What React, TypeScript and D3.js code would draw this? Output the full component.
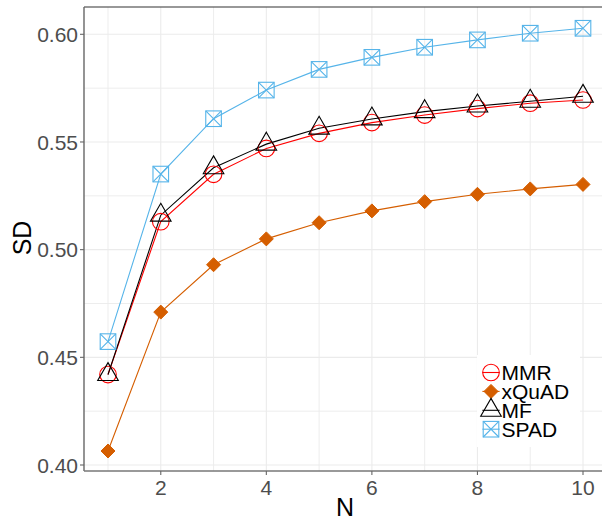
import React, { useEffect, useRef } from 'react';
import * as d3 from 'd3';

// values
const nValues = [1, 2, 3, 4, 5, 6, 7, 8, 9, 10];
const mmrSD = [0.442, 0.513, 0.535, 0.547, 0.554, 0.559, 0.5625, 0.5655, 0.568, 0.5695];
const xquadSD = [0.4065, 0.471, 0.493, 0.505, 0.5125, 0.518, 0.5223, 0.5257, 0.5282, 0.5303];
const mfSD = [0.442, 0.516, 0.538, 0.549, 0.5564, 0.5607, 0.5641, 0.5667, 0.5689, 0.5712];
const spadSD = [0.4573, 0.5351, 0.5608, 0.5741, 0.5837, 0.5893, 0.594, 0.5974, 0.6005, 0.6028];
const seriesNames = ['MMR', 'xQuAD', 'MF', 'SPAD'];
const yTicks = [0.4, 0.45, 0.5, 0.55, 0.6];
const yMinor = [0.425, 0.475, 0.525, 0.575];
const xTicks = [2, 4, 6, 8, 10];
const xMinor = [1, 3, 5, 7, 9];

const FONT = '"Liberation Sans", Arial, sans-serif';

type Shape = 'circle' | 'diamond' | 'triangle' | 'squarecross';

const seriesList: { name: string; values: number[]; color: string; shape: Shape }[] = [
  { name: seriesNames[0], values: mmrSD, color: '#FF0000', shape: 'circle' },
  { name: seriesNames[1], values: xquadSD, color: '#D55E00', shape: 'diamond' },
  { name: seriesNames[2], values: mfSD, color: '#000000', shape: 'triangle' },
  { name: seriesNames[3], values: spadSD, color: '#56B4E9', shape: 'squarecross' },
];

function drawShape(g: any, shape: Shape, cx: number, cy: number, color: string) {
  if (shape === 'circle') {
    g.append('circle').attr('cx', cx).attr('cy', cy).attr('r', 8.3)
      .attr('fill', 'none').attr('stroke', color).attr('stroke-width', 1.1);
  } else if (shape === 'diamond') {
    const r = 7;
    g.append('path')
      .attr('d', `M${cx},${cy - r}L${cx + r},${cy}L${cx},${cy + r}L${cx - r},${cy}Z`)
      .attr('fill', color).attr('stroke', color).attr('stroke-width', 1);
  } else if (shape === 'triangle') {
    const h = 17.9, w = 20.6;
    g.append('path')
      .attr('d', `M${cx},${cy - h * 2 / 3}L${cx + w / 2},${cy + h / 3}L${cx - w / 2},${cy + h / 3}Z`)
      .attr('fill', 'none').attr('stroke', color).attr('stroke-width', 1.1);
  } else {
    const s = 7.8;
    g.append('rect').attr('x', cx - s).attr('y', cy - s).attr('width', 2 * s).attr('height', 2 * s)
      .attr('fill', 'none').attr('stroke', color).attr('stroke-width', 1.1);
    g.append('path')
      .attr('d', `M${cx - s},${cy - s}L${cx + s},${cy + s}M${cx + s},${cy - s}L${cx - s},${cy + s}`)
      .attr('stroke', color).attr('stroke-width', 1.1);
  }
}

export default function App() {
  const ref = useRef<SVGSVGElement>(null);

  useEffect(() => {
    const width = 602;
    const height = 521;
    const panel = { left: 84, top: 7, right: 608, bottom: 471 };

    const svg = d3.select(ref.current);
    svg.selectAll('*').remove();
    svg.attr('width', width).attr('height', height);

    const x = d3.scaleLinear().domain([1, 10]).range([108, 583]);
    const y = d3.scaleLinear().domain([0.4, 0.6]).range([465, 34.3]);

    svg.append('rect').attr('x', 0).attr('y', 0).attr('width', width).attr('height', height).attr('fill', '#fff');

    // grid
    const grid = svg.append('g');
    yMinor.concat(yTicks).forEach(v => {
      grid.append('line').attr('x1', panel.left).attr('x2', panel.right)
        .attr('y1', y(v)).attr('y2', y(v)).attr('stroke', '#EBEBEB').attr('stroke-width', yTicks.includes(v) ? 1.1 : 0.9);
    });
    xMinor.concat(xTicks).forEach(v => {
      grid.append('line').attr('y1', panel.top).attr('y2', panel.bottom)
        .attr('x1', x(v)).attr('x2', x(v)).attr('stroke', '#EBEBEB').attr('stroke-width', xTicks.includes(v) ? 1.1 : 0.9);
    });

    // lines
    const line = d3.line<number>().x((d, i) => x(nValues[i])).y(d => y(d));
    seriesList.forEach(s => {
      svg.append('path').attr('d', line(s.values)).attr('fill', 'none')
        .attr('stroke', s.color).attr('stroke-width', 1.1);
    });

    // points
    seriesList.forEach(s => {
      const g = svg.append('g');
      s.values.forEach((v, i) => drawShape(g, s.shape, x(nValues[i]), y(v), s.color));
    });

    // panel border + axes
    svg.append('line').attr('x1', panel.left).attr('x2', panel.right).attr('y1', panel.top).attr('y2', panel.top)
      .attr('stroke', '#333').attr('stroke-width', 1.1);
    svg.append('line').attr('x1', panel.left).attr('x2', panel.left).attr('y1', panel.top).attr('y2', panel.bottom)
      .attr('stroke', '#666').attr('stroke-width', 1.4);
    svg.append('line').attr('x1', panel.left).attr('x2', panel.right).attr('y1', panel.bottom).attr('y2', panel.bottom)
      .attr('stroke', '#777').attr('stroke-width', 1.6);

    yTicks.forEach(v => {
      svg.append('line').attr('x1', panel.left - 4).attr('x2', panel.left).attr('y1', y(v)).attr('y2', y(v))
        .attr('stroke', '#666').attr('stroke-width', 1.1);
      svg.append('text').attr('x', panel.left - 6).attr('y', y(v)).attr('dy', '0.36em')
        .attr('text-anchor', 'end').attr('font-family', FONT).attr('font-size', 21).attr('fill', '#4D4D4D')
        .text(d3.format('.2f')(v));
    });
    xTicks.forEach(v => {
      svg.append('line').attr('x1', x(v)).attr('x2', x(v)).attr('y1', panel.bottom).attr('y2', panel.bottom + 4)
        .attr('stroke', '#666').attr('stroke-width', 1.1);
      svg.append('text').attr('x', x(v)).attr('y', 494.5)
        .attr('text-anchor', 'middle').attr('font-family', FONT).attr('font-size', 21).attr('fill', '#4D4D4D')
        .text(String(v));
    });

    svg.append('text').attr('x', 345).attr('y', 516).attr('text-anchor', 'middle')
      .attr('font-family', FONT).attr('font-size', 25).attr('fill', '#000').text('N');
    svg.append('text').attr('transform', 'translate(31,238) rotate(-90)').attr('text-anchor', 'middle')
      .attr('font-family', FONT).attr('font-size', 25).attr('fill', '#000').text('SD');

    // legend
    const legend = svg.append('g');
    legend.append('rect').attr('x', 477).attr('y', 355).attr('width', 103).attr('height', 92).attr('fill', '#fff');
    seriesList.forEach((s, i) => {
      const cy = 372.5 + i * 18.9;
      const cx = 491;
      legend.append('line').attr('x1', cx - 8.6).attr('x2', cx + 8.6).attr('y1', cy).attr('y2', cy)
        .attr('stroke', s.color).attr('stroke-width', 1.1);
      drawShape(legend, s.shape, cx, cy, s.color);
      legend.append('text').attr('x', 501.5).attr('y', cy).attr('dy', '0.36em')
        .attr('font-family', FONT).attr('font-size', 21).attr('fill', '#000').text(s.name);
    });
  }, []);

  return <svg ref={ref} style={{ position: 'absolute', left: 0, top: 0 }} />;
}
